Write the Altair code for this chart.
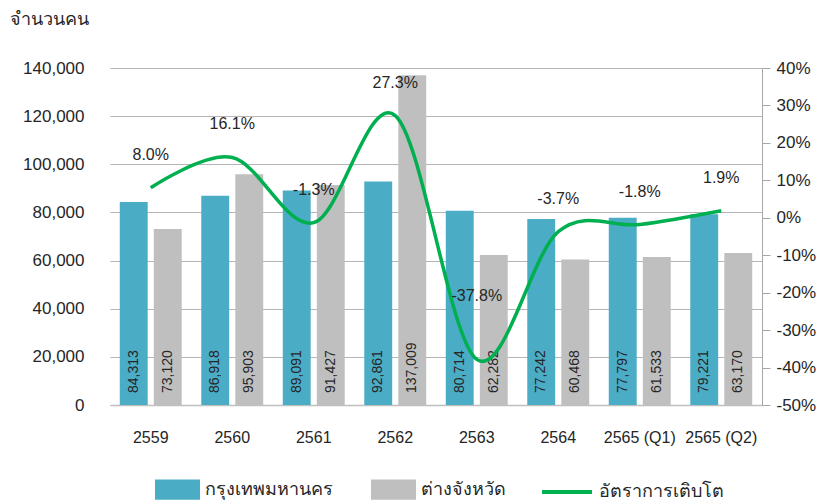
import altair as alt
import pandas as pd

categories = ["2559", "2560", "2561", "2562", "2563", "2564", "2565 (Q1)", "2565 (Q2)"]
bangkok = [84313, 86918, 89091, 92861, 80714, 77242, 77797, 79221]
provinces = [73120, 95903, 91427, 137009, 62282, 60468, 61533, 63170]
growth = [0.080, 0.161, -0.013, 0.273, -0.378, -0.037, -0.018, 0.019]
series_names = ["กรุงเทพมหานคร", "ต่างจังหวัด"]
line_name = "อัตราการเติบโต"
left_ticks = [0, 20000, 40000, 60000, 80000, 100000, 120000, 140000]
right_ticks = [-0.5, -0.4, -0.3, -0.2, -0.1, 0.0, 0.1, 0.2, 0.3, 0.4]

rows = []
for c, a, b in zip(categories, bangkok, provinces):
    rows.append({"category": c, "series": series_names[0], "value": a, "zero": 0})
    rows.append({"category": c, "series": series_names[1], "value": b, "zero": 0})
bar_df = pd.DataFrame(rows)
line_df = pd.DataFrame({"category": categories, "growth": growth, "series": [line_name] * len(categories)})

FONT = "Liberation Sans, Arial, sans-serif"
TXT = "#262626"

x_enc = alt.X(
    "category:N", sort=categories,
    scale=alt.Scale(paddingInner=0.24, paddingOuter=0.12),
    axis=alt.Axis(title=None, labelAngle=0, ticks=False, domain=True, domainColor="#BFBFBF",
                  domainWidth=1.5, labelPadding=24, labelFontSize=16, labelColor=TXT, labelFont=FONT),
)
xoff = alt.XOffset("series:N", sort=series_names, scale=alt.Scale(paddingInner=0.18, paddingOuter=0))

left_axis = alt.Axis(title=None, values=left_ticks, labelExpr="format(datum.value, ',')", grid=True,
                     gridColor="#B5B5B5", domain=False, ticks=False, labelPadding=26, labelFontSize=17,
                     labelColor=TXT, labelFont=FONT)
y_left = alt.Scale(domain=[0, 140000])

bars = alt.Chart(bar_df).mark_bar().encode(
    x=x_enc,
    xOffset=xoff,
    y=alt.Y("value:Q", scale=y_left, axis=left_axis),
    color=alt.Color(
        "series:N", sort=series_names,
        scale=alt.Scale(domain=series_names, range=["#4BACC6", "#BFBFBF"]),
        legend=alt.Legend(title=None, orient="none", legendX=45, legendY=399, direction="horizontal",
                          symbolType="M-1,-0.45L1,-0.45L1,0.45L-1,0.45Z", symbolSize=2025,
                          symbolStrokeWidth=0, labelFontSize=18, labelFont=FONT, labelColor=TXT,
                          columnPadding=38, labelOffset=5, padding=0),
    ),
)

bar_text = alt.Chart(bar_df).mark_text(angle=270, align="left", baseline="middle", dx=12,
                                       fontSize=14, font=FONT, color=TXT).encode(
    x=x_enc,
    xOffset=xoff,
    y=alt.Y("zero:Q", scale=y_left, axis=left_axis),
    text=alt.Text("value:Q", format=","),
)

right_axis = alt.Axis(title=None, orient="right", values=right_ticks,
                      labelExpr="replace(format(datum.value, '.0%'), '\u2212', '-')", grid=False,
                      domain=True, domainColor="#A6A6A6", ticks=True, tickColor="#A6A6A6", tickSize=8,
                      labelPadding=6, labelFontSize=17, labelColor=TXT, labelFont=FONT)
y_right = alt.Scale(domain=[-0.5, 0.4])

line = alt.Chart(line_df).mark_line(interpolate="cardinal", strokeWidth=3.5).encode(
    x=x_enc,
    y=alt.Y("growth:Q", scale=y_right, axis=right_axis),
    stroke=alt.Stroke(
        "series:N", scale=alt.Scale(domain=[line_name], range=["#00B050"]),
        legend=alt.Legend(title=None, orient="none", legendX=430, legendY=397, symbolType="stroke",
                          symbolSize=2500, symbolStrokeWidth=4, labelFontSize=18, labelFont=FONT,
                          labelColor=TXT, labelOffset=5, padding=0),
    ),
)

label_expr = "replace(format(datum.growth, '.1%'), '\u2212', '-')"

growth_text = alt.Chart(line_df).mark_text(dy=-33, fontSize=16, font=FONT, color=TXT).encode(
    x=x_enc,
    y=alt.Y("growth:Q", scale=y_right, axis=right_axis),
    text="label:N",
).transform_filter("datum.growth > -0.3").transform_calculate(label=label_expr)

growth_text_low = alt.Chart(line_df).mark_text(dy=-63, fontSize=16, font=FONT, color=TXT).encode(
    x=x_enc,
    y=alt.Y("growth:Q", scale=y_right, axis=right_axis),
    text="label:N",
).transform_filter("datum.growth <= -0.3").transform_calculate(label=label_expr)

left = alt.layer(bars, bar_text)
right = alt.layer(line, growth_text, growth_text_low)

chart = alt.layer(left, right).resolve_scale(y="independent").properties(
    width=652, height=337,
    autosize=alt.AutoSizeParams(type="none"),
    padding={"left": 102, "top": 60, "right": 68, "bottom": 96},
    title=alt.Title("จำนวนคน", anchor="start", frame="group", dx=-100, offset=30, fontSize=18,
                    fontWeight="normal", font=FONT, color=TXT),
).configure_view(stroke=None)

chart.save("out.html", embed_options={"renderer": "svg", "actions": False})
